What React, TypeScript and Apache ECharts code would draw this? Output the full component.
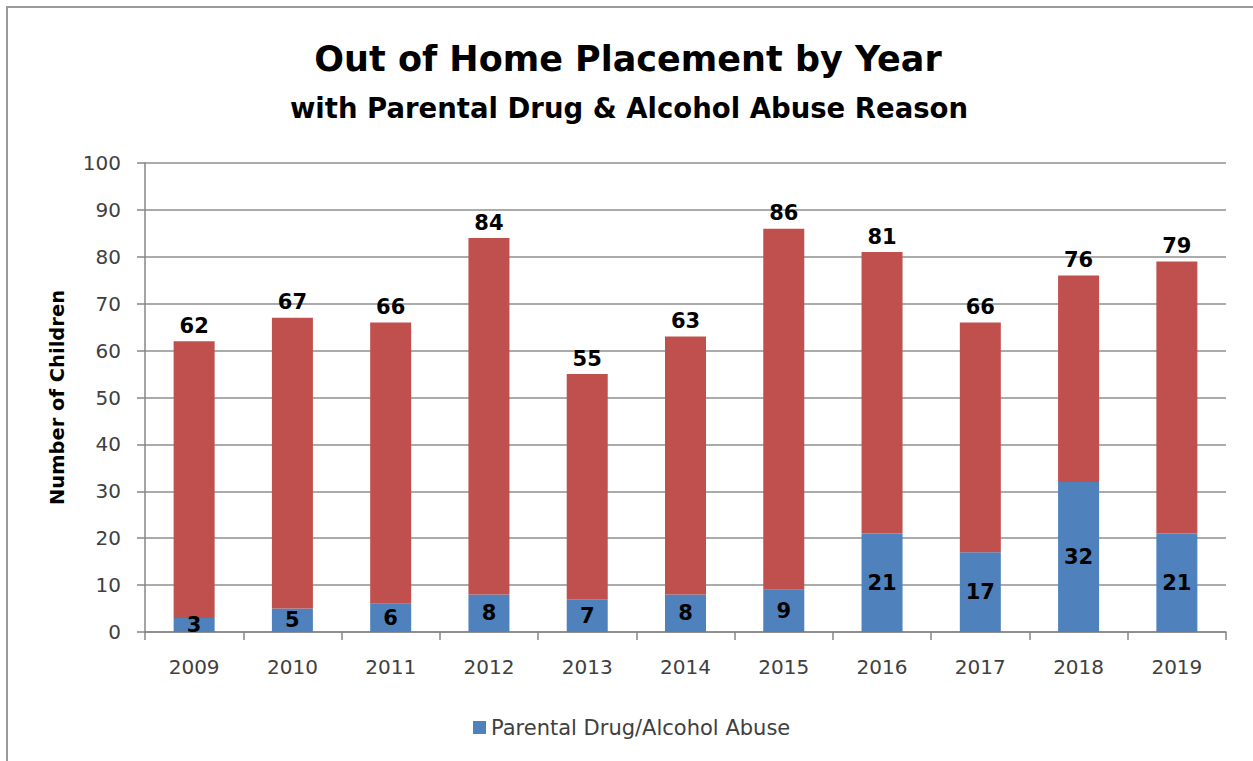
import React, { useEffect, useRef } from "react";
import * as echarts from "echarts";

const years = ["2009", "2010", "2011", "2012", "2013", "2014", "2015", "2016", "2017", "2018", "2019"];
const totals = [62, 67, 66, 84, 55, 63, 86, 81, 66, 76, 79];
const drugAlcohol = [3, 5, 6, 8, 7, 8, 9, 21, 17, 32, 21];
const otherReasons = totals.map((t, i) => t - drugAlcohol[i]);

const FONT = "'DejaVu Sans', sans-serif";

export default function App() {
  const ref = useRef<HTMLDivElement>(null);
  useEffect(() => {
    const chart = echarts.init(ref.current!, null, { renderer: "svg" });
    chart.setOption({
      animation: false,
      backgroundColor: "#ffffff",
      textStyle: { fontFamily: FONT },
      graphic: [
        {
          type: "rect",
          shape: { x: 7, y: 7, width: 1300, height: 800 },
          style: { fill: "none", stroke: "#9a9a9a", lineWidth: 2 },
          silent: true,
        },
        {
          type: "text",
          x: 628,
          y: 59,
          style: {
            text: "Out of Home Placement by Year",
            fontFamily: FONT,
            fontWeight: "bold",
            fontSize: 35,
            fill: "#000000",
            textAlign: "center",
            textVerticalAlign: "middle",
          },
        },
        {
          type: "text",
          x: 629,
          y: 108,
          style: {
            text: "with Parental Drug & Alcohol Abuse Reason",
            fontFamily: FONT,
            fontWeight: "bold",
            fontSize: 27.5,
            fill: "#000000",
            textAlign: "center",
            textVerticalAlign: "middle",
          },
        },
      ],
      grid: { left: 145, right: 27, top: 163, bottom: 129, containLabel: false },
      legend: {
        data: [{ name: "Parental Drug/Alcohol Abuse", icon: "rect" }],
        left: 468,
        top: 712,
        itemWidth: 13,
        itemHeight: 13,
        textStyle: { fontFamily: FONT, fontSize: 21, color: "#404040" },
      },
      xAxis: {
        type: "category",
        data: years,
        axisLine: { lineStyle: { color: "#868686", width: 1.5 } },
        axisTick: { show: true, length: 8, lineStyle: { color: "#868686", width: 1.5 } },
        axisLabel: { fontFamily: FONT, fontSize: 20, color: "#404040", margin: 25 },
      },
      yAxis: {
        type: "value",
        min: 0,
        max: 100,
        interval: 10,
        name: "Number of Children",
        nameLocation: "middle",
        nameGap: 78,
        nameRotate: 90,
        nameTextStyle: { fontFamily: FONT, fontWeight: "bold", fontSize: 19.5, color: "#000000" },
        axisLine: { show: true, lineStyle: { color: "#868686", width: 1.5 } },
        axisTick: { show: true, length: 8, lineStyle: { color: "#868686", width: 1.5 } },
        axisLabel: { fontFamily: FONT, fontSize: 20, color: "#404040", margin: 24 },
        splitLine: { lineStyle: { color: "#8f8f8f", width: 1.5 } },
      },
      series: [
        {
          name: "Parental Drug/Alcohol Abuse",
          type: "bar",
          stack: "total",
          data: drugAlcohol,
          barWidth: 41,
          itemStyle: { color: "#4F81BD" },
          label: {
            show: true,
            position: "inside",
            fontFamily: FONT,
            fontWeight: "bold",
            fontSize: 21,
            color: "#000000",
          },
        },
        {
          name: "Other",
          type: "bar",
          stack: "total",
          data: otherReasons,
          barWidth: 41,
          itemStyle: { color: "#C0504D" },
          label: {
            show: true,
            position: "top",
            distance: 5,
            fontFamily: FONT,
            fontWeight: "bold",
            fontSize: 21,
            color: "#000000",
            formatter: (p: any) => String(totals[p.dataIndex]),
          },
        },
      ],
    });
    return () => chart.dispose();
  }, []);
  return (
    <div
      ref={ref}
      style={{ position: "fixed", left: 0, top: 0, width: 1253, height: 761 }}
    />
  );
}
